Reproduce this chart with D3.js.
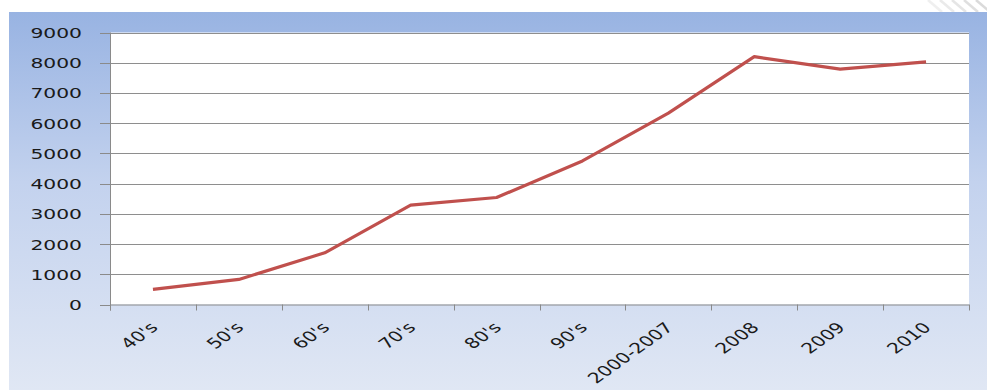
<!DOCTYPE html>
<html>
<head>
<meta charset="utf-8">
<script src="https://cdn.jsdelivr.net/npm/d3@7/dist/d3.min.js"></script>
<style>
  html, body { margin: 0; padding: 0; background: #ffffff; }
  svg { display: block; }
  text { font-family: "DejaVu Sans", Verdana, sans-serif; fill: #1a1a1a; }
</style>
</head>
<body>
<svg id="chart" width="987" height="390"></svg>
<script>
// Categories and values for the series
const categories = ["40's", "50's", "60's", "70's", "80's", "90's", "2000-2007", "2008", "2009", "2010"];
const values = [500, 830, 1710, 3290, 3540, 4750, 6330, 8200, 7790, 8030];
const yTicks = [0, 1000, 2000, 3000, 4000, 5000, 6000, 7000, 8000, 9000];

const W = 987, H = 390;
const panel = { x: 9, y: 12 };
const plot = { left: 110, right: 969, top: 32.5, bottom: 304.5 };
const stretch = 1.4; // lettering is drawn wide

const svg = d3.select("#chart");
const defs = svg.append("defs");

const grad = defs.append("linearGradient")
  .attr("id", "panelFill").attr("x1", 0).attr("y1", 0).attr("x2", 0).attr("y2", 1);
grad.append("stop").attr("offset", "0%").attr("stop-color", "#98b3e2");
grad.append("stop").attr("offset", "45%").attr("stop-color", "#c3d2ee");
grad.append("stop").attr("offset", "100%").attr("stop-color", "#e0e7f4");

// faint diagonal hatching in the top-right corner above the panel
const hatch = svg.append("g").attr("stroke", "#c9c9c9").attr("stroke-width", 2.5).attr("opacity", 0.8);
[928, 940, 952, 964, 976].forEach((x0, i) => {
  hatch.append("line")
    .attr("x1", x0).attr("y1", 0)
    .attr("x2", x0 + 14).attr("y2", 12)
    .attr("opacity", 0.35 + i * 0.12);
});

// chart panel
svg.append("rect")
  .attr("x", panel.x).attr("y", panel.y)
  .attr("width", W - panel.x).attr("height", H - panel.y)
  .attr("fill", "url(#panelFill)");

// plot area
svg.append("rect")
  .attr("x", plot.left).attr("y", plot.top)
  .attr("width", plot.right - plot.left).attr("height", plot.bottom - plot.top)
  .attr("fill", "#ffffff");

const x = d3.scaleBand().domain(categories).range([plot.left, plot.right]).padding(0);
const y = d3.scaleLinear().domain([0, 9000]).range([plot.bottom, plot.top]);

// horizontal gridlines
svg.append("g")
  .selectAll("line")
  .data(yTicks.filter(d => d > 0))
  .join("line")
  .attr("x1", plot.left).attr("x2", plot.right)
  .attr("y1", d => Math.round(y(d)) + 0.5).attr("y2", d => Math.round(y(d)) + 0.5)
  .attr("stroke", "#8e8e8e").attr("stroke-width", 1);

// y axis line and tick marks
const axisColor = "#8a8a8a";
svg.append("line")
  .attr("x1", plot.left + 0.5).attr("x2", plot.left + 0.5)
  .attr("y1", plot.top).attr("y2", plot.bottom + 6)
  .attr("stroke", axisColor);
svg.append("g").selectAll("line")
  .data(yTicks)
  .join("line")
  .attr("x1", plot.left - 10).attr("x2", plot.left)
  .attr("y1", d => Math.round(y(d)) + 0.5).attr("y2", d => Math.round(y(d)) + 0.5)
  .attr("stroke", axisColor);

// y tick labels
svg.append("g").selectAll("text")
  .data(yTicks)
  .join("text")
  .attr("transform", d => `translate(82,${y(d) + 5.5}) scale(${stretch},1)`)
  .attr("text-anchor", "end")
  .attr("font-size", 14.5)
  .text(d => d);

// x axis line and tick marks
svg.append("line")
  .attr("x1", plot.left).attr("x2", plot.right)
  .attr("y1", plot.bottom + 0.5).attr("y2", plot.bottom + 0.5)
  .attr("stroke", axisColor);
const xEdges = categories.map(c => x(c)).concat([plot.right]);
svg.append("g").selectAll("line")
  .data(xEdges)
  .join("line")
  .attr("x1", d => Math.round(d) + 0.5).attr("x2", d => Math.round(d) + 0.5)
  .attr("y1", plot.bottom).attr("y2", plot.bottom + 6)
  .attr("stroke", axisColor);

// x tick labels, rotated
svg.append("g").selectAll("text")
  .data(categories)
  .join("text")
  .attr("transform", d => `translate(${x(d) + x.bandwidth() / 2 + 6},${plot.bottom + 24}) scale(${stretch},1) rotate(-45)`)
  .attr("text-anchor", "end")
  .attr("font-size", 14.5)
  .text(d => d);

// the series line
const line = d3.line()
  .x((d, i) => x(categories[i]) + x.bandwidth() / 2)
  .y(d => y(d));
svg.append("path")
  .datum(values)
  .attr("d", line)
  .attr("fill", "none")
  .attr("stroke", "#c0504d")
  .attr("stroke-width", 3.2)
  .attr("stroke-linejoin", "round")
  .attr("stroke-linecap", "butt");
</script>
</body>
</html>
